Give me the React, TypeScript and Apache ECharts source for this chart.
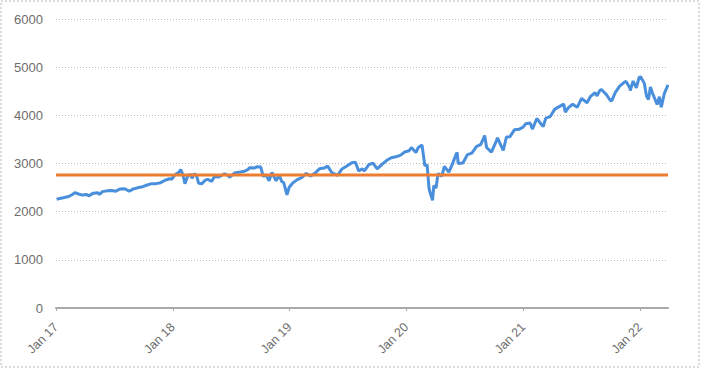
import React, { useEffect, useRef } from "react";
import * as echarts from "echarts";

// S&P 500-style index level (date, value)
const dates: string[] = [
  "2017-01-03","2017-01-13","2017-01-27","2017-02-10","2017-02-24","2017-03-01","2017-03-10","2017-03-24","2017-04-07","2017-04-13","2017-04-28","2017-05-12","2017-05-17","2017-05-26","2017-06-09","2017-06-23","2017-07-07","2017-07-21","2017-08-04","2017-08-18","2017-08-31","2017-09-15","2017-09-29","2017-10-13","2017-10-27","2017-11-10","2017-11-24","2017-12-08","2017-12-22","2017-12-29",
  "2018-01-05","2018-01-12","2018-01-19","2018-01-26","2018-02-02","2018-02-08","2018-02-16","2018-02-26","2018-03-02","2018-03-09","2018-03-16","2018-03-23","2018-04-02","2018-04-13","2018-04-20","2018-05-03","2018-05-11","2018-05-25","2018-06-12","2018-06-22","2018-06-28","2018-07-13","2018-07-27","2018-08-10","2018-08-24","2018-08-29","2018-09-14","2018-09-20","2018-10-03","2018-10-11","2018-10-19","2018-10-29","2018-11-07","2018-11-20","2018-11-30","2018-12-07","2018-12-14","2018-12-24","2018-12-31",
  "2019-01-11","2019-01-25","2019-02-08","2019-02-22","2019-03-08","2019-03-22","2019-04-05","2019-04-19","2019-04-30","2019-05-13","2019-05-31","2019-06-14","2019-06-28","2019-07-15","2019-07-26","2019-08-05","2019-08-16","2019-08-23","2019-09-06","2019-09-19","2019-10-02","2019-10-18","2019-11-01","2019-11-15","2019-11-29","2019-12-13","2019-12-27",
  "2020-01-10","2020-01-17","2020-01-31","2020-02-07","2020-02-19","2020-02-28","2020-03-06","2020-03-12","2020-03-16","2020-03-23","2020-03-27","2020-04-03","2020-04-09","2020-04-21","2020-04-29","2020-05-13","2020-05-22","2020-06-05","2020-06-08","2020-06-11","2020-06-26","2020-07-10","2020-07-24","2020-08-07","2020-08-21","2020-09-02","2020-09-08","2020-09-23","2020-10-09","2020-10-12","2020-10-30","2020-11-09","2020-11-20","2020-12-04","2020-12-18","2020-12-31",
  "2021-01-08","2021-01-22","2021-01-29","2021-02-12","2021-02-26","2021-03-04","2021-03-12","2021-03-26","2021-04-09","2021-04-23","2021-05-07","2021-05-12","2021-05-21","2021-06-04","2021-06-18","2021-07-02","2021-07-19","2021-07-30","2021-08-13","2021-08-19","2021-08-27","2021-09-02","2021-09-17","2021-09-30","2021-10-04","2021-10-15","2021-10-29","2021-11-12","2021-11-18","2021-11-30","2021-12-01","2021-12-10","2021-12-20","2021-12-29",
  "2022-01-03","2022-01-14","2022-01-21","2022-01-27","2022-02-02","2022-02-11","2022-02-23","2022-03-02","2022-03-08","2022-03-18","2022-03-29"
];
const values: number[] = [
  2258,2275,2295,2316,2367,2396,2372,2344,2355,2329,2384,2391,2357,2416,2432,2438,2425,2473,2477,2425,2472,2500,2519,2553,2581,2582,2602,2652,2683,2674,
  2743,2786,2810,2873,2762,2581,2732,2780,2691,2786,2752,2588,2582,2656,2670,2630,2728,2721,2787,2755,2716,2801,2819,2833,2875,2914,2905,2931,2925,2728,2768,2641,2814,2642,2760,2633,2600,2351,2507,
  2596,2665,2707,2793,2743,2800,2893,2905,2946,2812,2752,2887,2942,3014,3026,2845,2889,2847,2979,3006,2888,2986,3067,3120,3141,3169,3240,
  3265,3330,3226,3328,3386,2954,2972,2481,2386,2237,2541,2489,2790,2737,2940,2820,2955,3194,3232,3002,3009,3185,3216,3351,3397,3580,3332,3237,3477,3534,3270,3550,3557,3699,3709,3756,
  3824,3841,3714,3934,3811,3768,3943,3974,4129,4180,4232,4063,4156,4230,4166,4352,4258,4395,4468,4405,4509,4537,4433,4308,4300,4471,4605,4683,4704,4567,4513,4712,4568,4793,
  4796,4663,4398,4326,4589,4419,4225,4387,4170,4463,4631
];
const thresholdValue = 2760;
const axisStart = "2017-01-01";
const axisEnd = "2022-03-29";
const yearTicks: number[] = [2017, 2018, 2019, 2020, 2021, 2022];
const yMax = 6000;
const yStep = 1000;

function toTime(s: string): number {
  const [y, m, d] = s.split("-").map(Number);
  return Date.UTC(y, m - 1, d);
}

export default function App() {
  const ref = useRef<HTMLDivElement>(null);
  useEffect(() => {
    if (!ref.current) return;
    const chart = echarts.init(ref.current, undefined, { renderer: "svg" });
    const tickTimes = yearTicks.map((y) => Date.UTC(y, 0, 1));
    const lineData = dates.map((d, i) => [toTime(d), values[i]]);
    const thresholdData = [
      [toTime(axisStart), thresholdValue],
      [toTime(axisEnd), thresholdValue],
    ];
    chart.setOption({
      animation: false,
      backgroundColor: "#ffffff",
      graphic: [
        {
          type: "rect",
          z: 100,
          shape: { x: 1, y: 1, width: 698, height: 366 },
          style: { fill: "none", stroke: "#b4b4b4", lineWidth: 1, lineDash: [2, 2] },
          silent: true,
        },
      ],
      grid: { left: 56, right: 33, top: 19, bottom: 61 },
      xAxis: {
        type: "value",
        min: toTime(axisStart),
        max: toTime(axisEnd),
        splitLine: { show: false },
        axisLine: { show: true, lineStyle: { color: "#a9a9a9", width: 2 } },
        axisTick: {
          show: true,
          customValues: tickTimes,
          length: 3,
          lineStyle: { color: "#a9a9a9", width: 1 },
        },
        axisLabel: {
          customValues: tickTimes,
          rotate: 45,
          margin: 17,
          color: "#6e6e6e",
          fontFamily: "Liberation Sans",
          fontSize: 12.5,
          formatter: (v: number) => "Jan " + String(new Date(v).getUTCFullYear()).slice(2),
        },
      },
      yAxis: {
        type: "value",
        min: 0,
        max: yMax,
        interval: yStep,
        axisLine: { show: false },
        axisTick: { show: false },
        axisLabel: {
          margin: 13,
          color: "#6e6e6e",
          fontFamily: "Liberation Sans",
          fontSize: 13,
          formatter: (v: number) => String(v),
        },
        splitLine: { lineStyle: { color: "#bdbdbd", type: [1, 2], width: 1 } },
      },
      series: [
        {
          type: "line",
          data: lineData,
          showSymbol: false,
          lineStyle: { color: "#4a8fdc", width: 3 },
          z: 2,
        },
        {
          type: "line",
          data: thresholdData,
          showSymbol: false,
          lineStyle: { color: "#ed7d31", width: 3 },
          z: 3,
        },
      ],
    });
    return () => chart.dispose();
  }, []);
  return (
    <div
      ref={ref}
      style={{ position: "fixed", left: 0, top: 0, width: 701, height: 369, background: "#fff" }}
    />
  );
}
